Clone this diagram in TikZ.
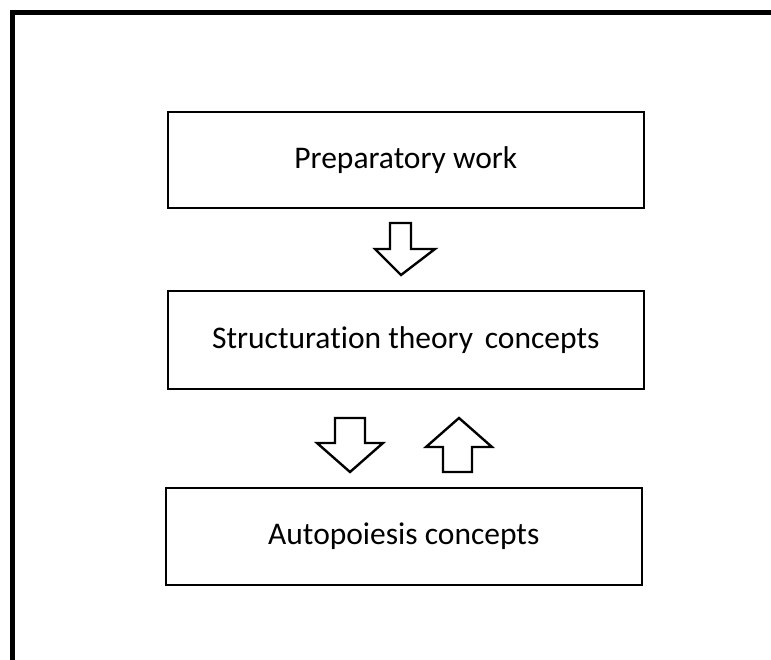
\documentclass[tikz,border=0pt]{standalone}
\usepackage{fontspec}
\setmainfont{Carlito}[Ligatures=NoCommon]
\begin{document}
\begin{tikzpicture}[x=1pt,y=-1pt,
  stagebox/.style={draw,line width=1.6pt,minimum width=476pt,minimum height=96pt,inner sep=0pt,font=\fontsize{31.5}{36}\selectfont,anchor=north west},
  blockarrow/.style={draw,line width=2.4pt,line join=miter,fill=white}]
\useasboundingbox (0,0) rectangle (771,660);
\clip (0,0) rectangle (771,660);
\draw[line width=5pt] (12.5,700) -- (12.5,12.5) -- (800,12.5);
\node[stagebox] (prep) at (167,111) {Preparatory work};
\node[stagebox,minimum height=98pt] (struct) at (167,290) {Structuration theory\hspace{0.15em} concepts};
\node[stagebox,minimum height=97pt] (auto) at (165,487) {Autopoiesis concepts};
% arrow prep -> struct
\draw[blockarrow] (390,223) -- (411,223) -- (411,249) -- (435,249) -- (401,275) -- (375,249) -- (390,249) -- cycle;
% arrow struct -> auto
\draw[blockarrow] (335,418) -- (365,418) -- (365,443) -- (383,443) -- (350,472) -- (317,443) -- (335,443) -- cycle;
% arrow auto -> struct
\draw[blockarrow] (443,472) -- (472,472) -- (472,447) -- (492,447) -- (459,418) -- (426,447) -- (443,447) -- cycle;
\end{tikzpicture}
\end{document}
